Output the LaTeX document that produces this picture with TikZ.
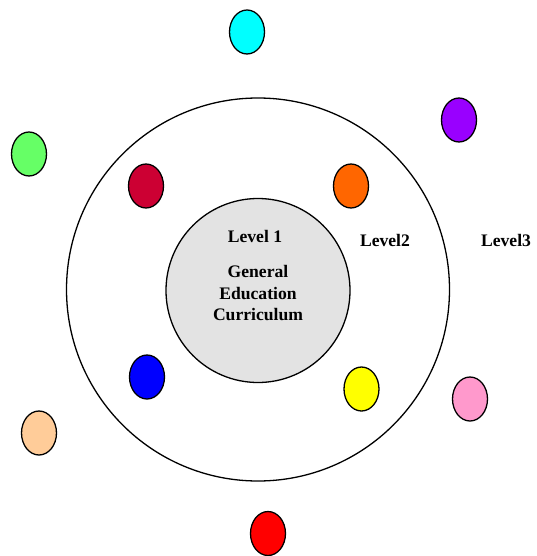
\documentclass[tikz,border=0pt]{standalone}
\usepackage{fontspec}
\setmainfont{Liberation Serif}
\usetikzlibrary{shapes.geometric}
\definecolor{cCyan}{HTML}{00FFFF}
\definecolor{cPurple}{HTML}{9900FF}
\definecolor{cGreen}{HTML}{66FF66}
\definecolor{cCrimson}{HTML}{CC0033}
\definecolor{cOrange}{HTML}{FF6600}
\definecolor{cBlue}{HTML}{0000FF}
\definecolor{cYellow}{HTML}{FFFF00}
\definecolor{cPink}{HTML}{FF99CC}
\definecolor{cPeach}{HTML}{FFCC99}
\definecolor{cRed}{HTML}{FF0000}
\definecolor{cInner}{HTML}{E3E3E3}
\tikzset{
  dot/.style={ellipse, draw=black, line width=1.3pt, minimum width=35pt, minimum height=44pt, inner sep=0pt},
  lbl/.style={font=\bfseries\fontsize{17.6}{21.5}\selectfont, align=center, inner sep=0pt},
}
\begin{document}
\begin{tikzpicture}[x=1pt,y=-1pt]
\useasboundingbox (0,0) rectangle (536,556);
\node[circle, draw=black, line width=1.3pt, minimum size=383pt, inner sep=0pt] (outer) at (258,289.5) {};
\node[circle, draw=black, fill=cInner, line width=1.3pt, minimum size=184pt, inner sep=0pt] (inner) at (258,290.5) {};
\node[lbl] (l1) at (255,236) {Level 1};
\node[lbl] (gec) at (258,293) {General\\Education\\Curriculum};
\node[lbl] (l2) at (385,240) {Level2};
\node[lbl] (l3) at (506,240) {Level3};
\node[dot, fill=cCyan] (d1) at (247,32) {};
\node[dot, fill=cPurple] (d2) at (459,120) {};
\node[dot, fill=cGreen] (d3) at (29,154) {};
\node[dot, fill=cCrimson] (d4) at (146,186) {};
\node[dot, fill=cOrange] (d5) at (351,186) {};
\node[dot, fill=cBlue] (d6) at (147,377) {};
\node[dot, fill=cYellow] (d7) at (361.5,389) {};
\node[dot, fill=cPink] (d8) at (470,399) {};
\node[dot, fill=cPeach] (d9) at (39,433) {};
\node[dot, fill=cRed] (d10) at (268,533.5) {};
\end{tikzpicture}
\end{document}
